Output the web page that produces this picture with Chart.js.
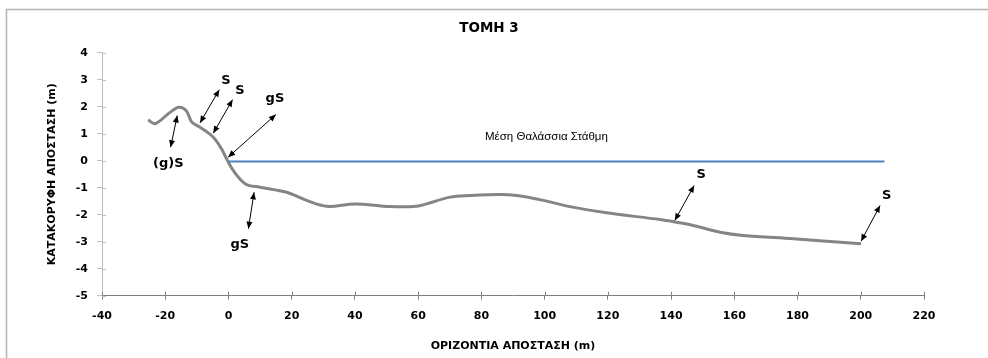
<!DOCTYPE html>
<html>
<head>
<meta charset="utf-8">
<script src="https://cdn.jsdelivr.net/npm/chart.js@4/dist/chart.umd.min.js"></script>
<style>
  html, body { margin: 0; padding: 0; background: #fff; }
  #wrap { width: 988px; height: 358px; position: relative; }
</style>
</head>
<body>
<div id="wrap"><canvas id="c" width="988" height="358"></canvas></div>
<script>
// Cross-section 3: horizontal distance (m) and elevation (m) of the seabed profile
const profileX = [-25.4, -23.2, -18.5, -15.7, -13.4, -11.6, -9.0, -4.8, -2.2, -0.6, 1.5, 5.4, 10.0, 18.4, 24.7, 31.1, 40.0, 51.1, 59.5, 62.7, 70.1, 76.4, 85.9, 91.2, 99.6, 108.0, 119.6, 136.5, 141.2, 147.0, 155.5, 162.8, 178.7, 189.2, 200.1];
const profileY = [1.51, 1.37, 1.79, 1.98, 1.86, 1.43, 1.24, 0.87, 0.44, 0.07, -0.36, -0.86, -0.98, -1.17, -1.47, -1.69, -1.60, -1.70, -1.69, -1.60, -1.35, -1.29, -1.25, -1.29, -1.47, -1.70, -1.93, -2.18, -2.27, -2.40, -2.65, -2.77, -2.89, -2.98, -3.08];

// Mean sea level
const seaX = [0, 207.5];
const seaY = [-0.03, -0.03];
const seaLabel = 'Μέση Θαλάσσια Στάθμη';
const seaLabelX = 120;
const seaLabelY = 0.88;

// Chart and axis titles
const chartTitle = 'ΤΟΜΗ 3';
const xTitle = 'ΟΡΙΖΟΝΤΙΑ ΑΠΟΣΤΑΣΗ (m)';
const yTitle = 'ΚΑΤΑΚΟΡΥΦΗ ΑΠΟΣΤΑΣΗ (m)';

// Axis ticks
const xTicks = [-40, -20, 0, 20, 40, 60, 80, 100, 120, 140, 160, 180, 200, 220];
const yTicks = [-5, -4, -3, -2, -1, 0, 1, 2, 3, 4];

// Sediment type notes: double arrows (from -> to) and their labels
const noteText   = ['(g)S', 'S', 'S', 'gS', 'gS', 'S', 'S'];
const noteFromX  = [-16.2, -9.0, -4.8, -0.1, 8.1, 141.2, 200.1];
const noteFromY  = [1.67, 1.40, 1.02, 0.13, -1.17, -2.21, -2.98];
const noteToX    = [-18.3, -2.9, 1.3, 15.0, 6.3, 147.3, 206.1];
const noteToY    = [0.50, 2.63, 2.26, 1.71, -2.52, -0.92, -1.66];
const noteLabelX = [-19.0, -0.8, 3.6, 14.7, 3.6, 149.5, 208.2];
const noteLabelY = [-0.11, 2.97, 2.60, 2.29, -3.10, -0.51, -1.29];

const FONT = '"DejaVu Sans", "Liberation Sans", sans-serif';

function arrowHead(ctx, x1, y1, x2, y2) {
  const a = Math.atan2(y2 - y1, x2 - x1);
  const len = 7, half = 3;
  ctx.beginPath();
  ctx.moveTo(x2, y2);
  ctx.lineTo(x2 - len * Math.cos(a) + half * Math.sin(a), y2 - len * Math.sin(a) - half * Math.cos(a));
  ctx.lineTo(x2 - len * Math.cos(a) - half * Math.sin(a), y2 - len * Math.sin(a) + half * Math.cos(a));
  ctx.closePath();
  ctx.fill();
}

const decorations = {
  id: 'decorations',
  beforeDraw(chart) {
    const ctx = chart.ctx;
    ctx.save();
    ctx.fillStyle = '#ffffff';
    ctx.fillRect(0, 0, chart.width, chart.height);
    ctx.strokeStyle = '#b4b4b4';
    ctx.lineWidth = 1.5;
    ctx.strokeRect(6.5, 9.5, chart.width + 20, chart.height + 20);
    ctx.restore();
  },
  afterDraw(chart) {
    const ctx = chart.ctx;
    const xs = chart.scales.x, ys = chart.scales.y;
    const area = chart.chartArea;
    ctx.save();
    // chart title
    ctx.fillStyle = '#000';
    ctx.font = 'bold 13.5px ' + FONT;
    ctx.textAlign = 'center';
    ctx.textBaseline = 'middle';
    ctx.fillText(chartTitle, 489, 28);

    // inner halves of the crossing tick marks
    ctx.lineWidth = 1;
    ctx.strokeStyle = '#7f7f7f';
    xTicks.forEach(v => {
      const px = Math.round(xs.getPixelForValue(v)) + 0.5;
      ctx.beginPath(); ctx.moveTo(px, area.bottom); ctx.lineTo(px, area.bottom - 4); ctx.stroke();
    });
    ctx.strokeStyle = '#bfbfbf';
    yTicks.forEach(v => {
      const py = Math.round(ys.getPixelForValue(v)) + 0.5;
      ctx.beginPath(); ctx.moveTo(area.left, py); ctx.lineTo(area.left + 4, py); ctx.stroke();
    });

    // sediment notes
    ctx.strokeStyle = '#000';
    ctx.fillStyle = '#000';
    ctx.lineWidth = 1;
    noteText.forEach((t, i) => {
      const x1 = xs.getPixelForValue(noteFromX[i]), y1 = ys.getPixelForValue(noteFromY[i]);
      const x2 = xs.getPixelForValue(noteToX[i]), y2 = ys.getPixelForValue(noteToY[i]);
      ctx.beginPath(); ctx.moveTo(x1, y1); ctx.lineTo(x2, y2); ctx.stroke();
      arrowHead(ctx, x1, y1, x2, y2);
      arrowHead(ctx, x2, y2, x1, y1);
      ctx.font = 'bold 13px ' + FONT;
      ctx.textAlign = 'center';
      ctx.textBaseline = 'middle';
      ctx.fillText(t, xs.getPixelForValue(noteLabelX[i]), ys.getPixelForValue(noteLabelY[i]));
    });

    // sea level caption
    ctx.font = '11.5px "Liberation Sans", sans-serif';
    ctx.textAlign = 'right';
    ctx.textBaseline = 'middle';
    ctx.fillStyle = '#000';
    ctx.fillText(seaLabel, xs.getPixelForValue(seaLabelX), ys.getPixelForValue(seaLabelY));
    ctx.restore();
  }
};

new Chart(document.getElementById('c'), {
  type: 'scatter',
  data: {
    datasets: [
      {
        label: 'Προφίλ',
        data: profileX.map((x, i) => ({ x: x, y: profileY[i] })),
        showLine: true,
        borderColor: '#858585',
        borderWidth: 3,
        pointRadius: 0,
        tension: 0.35,
        order: 1
      },
      {
        label: seaLabel,
        data: seaX.map((x, i) => ({ x: x, y: seaY[i] })),
        showLine: true,
        borderColor: '#4f81bd',
        borderWidth: 2,
        pointRadius: 0,
        order: 0
      }
    ]
  },
  options: {
    responsive: false,
    animation: false,
    events: [],
    layout: { padding: { left: 40, right: 64, top: 52.7, bottom: 0 } },
    plugins: {
      legend: { display: false },
      tooltip: { enabled: false },
      title: { display: false }
    },
    scales: {
      x: {
        type: 'linear',
        position: 'bottom',
        min: -40,
        max: 220,
        afterBuildTicks: s => { s.ticks = xTicks.map(v => ({ value: v })); },
        afterFit: s => { s.height = 62.3; },
        grid: { drawOnChartArea: false, color: '#7f7f7f', tickLength: 4 },
        border: { color: '#7f7f7f', width: 1 },
        ticks: { color: '#000', font: { family: FONT, size: 11, weight: 'bold' }, padding: 10, maxRotation: 0 },
        title: {
          display: true,
          text: xTitle,
          color: '#000',
          font: { family: FONT, size: 11, weight: 'bold' },
          padding: { top: 0, bottom: 5.5 }
        }
      },
      y: {
        type: 'linear',
        position: 'left',
        min: -5,
        max: 4,
        afterBuildTicks: s => { s.ticks = yTicks.map(v => ({ value: v })); },
        afterFit: s => { s.width = 62; },
        grid: { drawOnChartArea: false, color: '#bfbfbf', tickLength: 5 },
        border: { color: '#bfbfbf', width: 1 },
        ticks: { color: '#000', font: { family: FONT, size: 11, weight: 'bold' }, padding: 9 },
        title: {
          display: true,
          text: yTitle,
          color: '#000',
          font: { family: FONT, size: 11, weight: 'bold' },
          padding: { top: 5.1, bottom: 0 }
        }
      }
    }
  },
  plugins: [decorations]
});
</script>
</body>
</html>
